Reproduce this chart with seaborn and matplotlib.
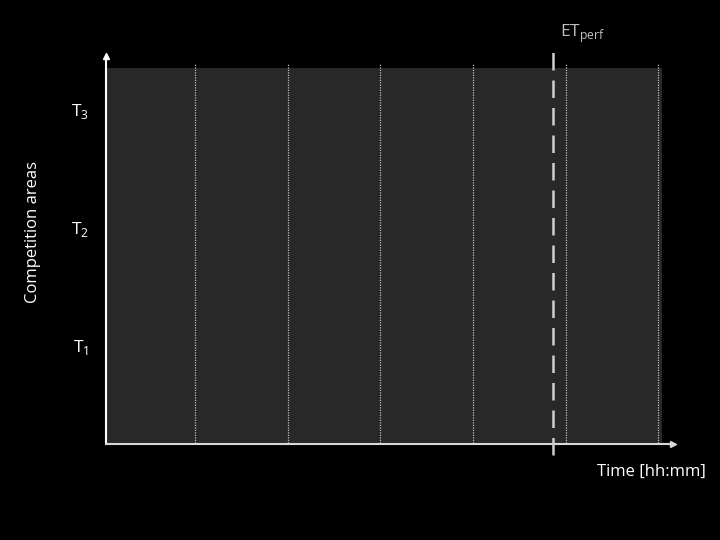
import matplotlib
matplotlib.use("Agg")
import matplotlib.pyplot as plt
import seaborn as sns

# time axis in hours, competition areas T1..T3
grid_times = [1, 2, 3, 4, 5, 6]
et_perf = 4.865
period_start, period_end = 0.045, 6.04
area_labels = [r"T$_\mathregular{1}$", r"T$_\mathregular{2}$", r"T$_\mathregular{3}$"]
area_pos = [1, 2, 3]

sns.set_theme(style="dark", rc={
    "figure.facecolor": "black",
    "axes.facecolor": "black",
    "savefig.facecolor": "black",
    "text.color": "white",
    "axes.labelcolor": "white",
    "ytick.color": "white",
})
plt.rcParams["font.family"] = ["Open Sans", "DejaVu Sans"]
plt.rcParams["mathtext.fontset"] = "custom"
plt.rcParams["mathtext.rm"] = "Open Sans"

fig = plt.figure(figsize=(7.2, 5.4), dpi=100)
ax = fig.add_axes([105.5 / 720, (540 - 444) / 540, (673 - 105.5) / 720, (444 - 56) / 540])
ax.set_xlim(0.03, 6.16)
ax.set_ylim(0.16, 3.45)

# shaded competition period
ax.fill_between([period_start, period_end], 0.16, 3.35, color="#282828", lw=0, zorder=1)

# time grid lines
ax.vlines(grid_times, 0.17, 3.38, colors="#bdbdbd", linestyles=(0, (1, 1)), lw=0.9, zorder=2)

# end of performance time
ax.plot([et_perf, et_perf], [0.07, 3.52], color="#cfcfcf", lw=1.8,
        dashes=(7, 4), clip_on=False, zorder=3)
ax.text(et_perf + 0.07, 3.64, r"ET$_\mathregular{perf}$", color="#bfbfbf",
        fontsize=12.5, ha="left", va="center")

# axes with arrows
for s in ["top", "right"]:
    ax.spines[s].set_visible(False)
ax.spines["left"].set_color("white")
ax.spines["bottom"].set_color("#d8d8d8")
ax.spines["left"].set_linewidth(1.5)
ax.spines["bottom"].set_linewidth(1.5)
ax.plot(1, 0, ">", color="#d8d8d8", ms=5, transform=ax.transAxes, clip_on=False)
ax.plot(0, 1, "^", color="white", ms=5, transform=ax.transAxes, clip_on=False)

ax.set_xticks([])
ax.set_yticks(area_pos)
ax.set_yticklabels(area_labels, fontsize=12.5)
ax.tick_params(axis="y", length=0, pad=12)
ax.grid(False)

fig.text(33 / 720, 1 - 232 / 540, "Competition areas", rotation=90,
         ha="center", va="center", fontsize=12, color="white")
fig.text(651 / 720, 1 - 472 / 540, "Time [hh:mm]", ha="center", va="center",
         fontsize=12, color="white")

fig.savefig("out.png", dpi=100)
